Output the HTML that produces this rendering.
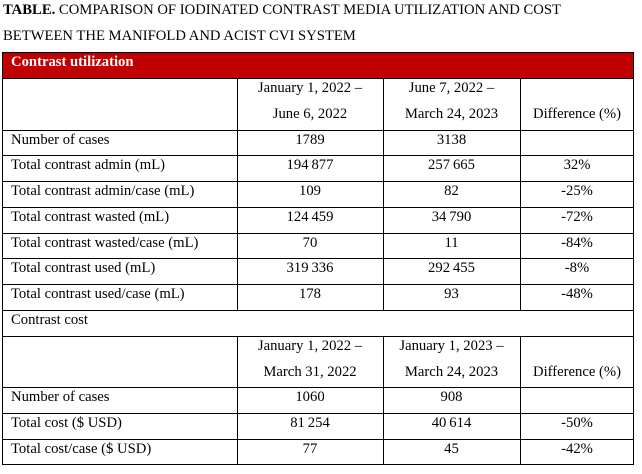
<!DOCTYPE html>
<html>
<head>
<meta charset="utf-8">
<style>
  html, body { margin:0; padding:0; background:#fff; }
  body { width:642px; height:474px; position:relative; overflow:hidden;
         font-family:"Liberation Serif", "Times New Roman", serif; font-size:14.67px; color:#000; }
  .t { position:absolute; line-height:20px; height:20px; white-space:nowrap; }
  .l { left:11px; }
  .c2 { left:237px; width:146px; text-align:center; }
  .c3 { left:383px; width:137px; text-align:center; }
  .c4 { left:520px; width:114px; text-align:center; }
  .h { position:absolute; left:2px; width:632px; height:1px; background:#000; }
  .v { position:absolute; width:1px; background:#000; }
  .red { position:absolute; left:2px; top:52px; width:632px; height:26px; background:#C00000; }
</style>
</head>
<body>
  <div class="t" style="left:3px;top:0px;"><b>TABLE.</b> COMPARISON OF IODINATED CONTRAST MEDIA UTILIZATION AND COST</div>
  <div class="t" style="left:3px;top:26px;">BETWEEN THE MANIFOLD AND ACIST CVI SYSTEM</div>

  <div class="red"></div>
  <div class="t" style="left:11px;top:52px;color:#fff;font-weight:bold;">Contrast utilization</div>

  <!-- horizontal lines -->
  <div class="h" style="top:52px"></div>
  <div class="h" style="top:78px"></div>
  <div class="h" style="top:130px"></div>
  <div class="h" style="top:155px"></div>
  <div class="h" style="top:181px"></div>
  <div class="h" style="top:207px"></div>
  <div class="h" style="top:233px"></div>
  <div class="h" style="top:258px"></div>
  <div class="h" style="top:284px"></div>
  <div class="h" style="top:310px"></div>
  <div class="h" style="top:336px"></div>
  <div class="h" style="top:387px"></div>
  <div class="h" style="top:413px"></div>
  <div class="h" style="top:439px"></div>
  <div class="h" style="top:464px"></div>

  <!-- outer verticals -->
  <div class="v" style="left:2px;top:52px;height:413px"></div>
  <div class="v" style="left:633px;top:52px;height:413px"></div>
  <!-- column lines section 1 -->
  <div class="v" style="left:237px;top:78px;height:232px"></div>
  <div class="v" style="left:383px;top:78px;height:232px"></div>
  <div class="v" style="left:520px;top:78px;height:232px"></div>
  <!-- column lines section 2 -->
  <div class="v" style="left:237px;top:336px;height:129px"></div>
  <div class="v" style="left:383px;top:336px;height:129px"></div>
  <div class="v" style="left:520px;top:336px;height:129px"></div>

  <!-- header 1 -->
  <div class="t c2" style="top:78px">January 1, 2022 –</div>
  <div class="t c2" style="top:104px">June 6, 2022</div>
  <div class="t c3" style="top:78px">June 7, 2022 –</div>
  <div class="t c3" style="top:104px">March 24, 2023</div>
  <div class="t c4" style="top:104px">Difference (%)</div>

  <!-- rows section 1 -->
  <div class="t l" style="top:130px">Number of cases</div>
  <div class="t c2" style="top:130px">1789</div>
  <div class="t c3" style="top:130px">3138</div>

  <div class="t l" style="top:155px">Total contrast admin (mL)</div>
  <div class="t c2" style="top:155px">194&#8201;877</div>
  <div class="t c3" style="top:155px">257&#8201;665</div>
  <div class="t c4" style="top:155px">32%</div>

  <div class="t l" style="top:181px">Total contrast admin/case (mL)</div>
  <div class="t c2" style="top:181px">109</div>
  <div class="t c3" style="top:181px">82</div>
  <div class="t c4" style="top:181px">-25%</div>

  <div class="t l" style="top:207px">Total contrast wasted (mL)</div>
  <div class="t c2" style="top:207px">124&#8201;459</div>
  <div class="t c3" style="top:207px">34&#8201;790</div>
  <div class="t c4" style="top:207px">-72%</div>

  <div class="t l" style="top:233px">Total contrast wasted/case (mL)</div>
  <div class="t c2" style="top:233px">70</div>
  <div class="t c3" style="top:233px">11</div>
  <div class="t c4" style="top:233px">-84%</div>

  <div class="t l" style="top:258px">Total contrast used (mL)</div>
  <div class="t c2" style="top:258px">319&#8201;336</div>
  <div class="t c3" style="top:258px">292&#8201;455</div>
  <div class="t c4" style="top:258px">-8%</div>

  <div class="t l" style="top:284px">Total contrast used/case (mL)</div>
  <div class="t c2" style="top:284px">178</div>
  <div class="t c3" style="top:284px">93</div>
  <div class="t c4" style="top:284px">-48%</div>

  <!-- contrast cost -->
  <div class="t l" style="top:310px">Contrast cost</div>

  <div class="t c2" style="top:336px">January 1, 2022 –</div>
  <div class="t c2" style="top:362px">March 31, 2022</div>
  <div class="t c3" style="top:336px">January 1, 2023 –</div>
  <div class="t c3" style="top:362px">March 24, 2023</div>
  <div class="t c4" style="top:362px">Difference (%)</div>

  <div class="t l" style="top:387px">Number of cases</div>
  <div class="t c2" style="top:387px">1060</div>
  <div class="t c3" style="top:387px">908</div>

  <div class="t l" style="top:413px">Total cost ($ USD)</div>
  <div class="t c2" style="top:413px">81&#8201;254</div>
  <div class="t c3" style="top:413px">40&#8201;614</div>
  <div class="t c4" style="top:413px">-50%</div>

  <div class="t l" style="top:439px">Total cost/case ($ USD)</div>
  <div class="t c2" style="top:439px">77</div>
  <div class="t c3" style="top:439px">45</div>
  <div class="t c4" style="top:439px">-42%</div>
</body>
</html>
